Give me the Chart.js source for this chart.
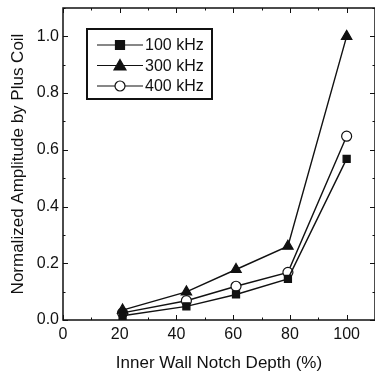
<!DOCTYPE html>
<html>
<head>
<meta charset="utf-8">
<script src="https://cdn.jsdelivr.net/npm/chart.js@4"></script>
<style>
  html, body { margin: 0; padding: 0; background: #fff; }
  #wrap { width: 375px; height: 374px; position: relative; overflow: hidden; }
</style>
</head>
<body>
<div id="wrap"><canvas id="c" width="375" height="374"></canvas></div>
<script>
// notch depth (%) and normalized amplitude per frequency
const depth = [21, 43.5, 61, 79.3, 100];
const amp100 = [0.015, 0.048, 0.090, 0.145, 0.568];
const amp300 = [0.035, 0.099, 0.178, 0.260, 1.000];
const amp400 = [0.025, 0.068, 0.119, 0.168, 0.648];
const seriesNames = ["100 kHz", "300 kHz", "400 kHz"];

const INK = "#111";
const FONT = "'Liberation Sans', Arial, sans-serif";

function pts(ys) {
    return depth.map(function (x, i) { return { x: x, y: ys[i] }; });
}

// frame, inward ticks on all four sides, and the boxed legend
const framePlugin = {
    id: "frame",
    afterDatasetsDraw: function (chart) {
        const ctx = chart.ctx;
        const a = chart.chartArea;
        const xs = chart.scales.x, ys = chart.scales.y;
        ctx.save();
        ctx.strokeStyle = INK;
        ctx.lineWidth = 1.5;
        ctx.strokeRect(a.left, a.top, a.right - a.left, a.bottom - a.top);

        ctx.lineWidth = 1;
        ctx.beginPath();
        for (let v = 0; v <= 110; v += 10) {
            const px = Math.round(xs.getPixelForValue(v)) + 0.5;
            const len = (v % 20 === 0) ? 5 : 2.5;
            ctx.moveTo(px, a.bottom); ctx.lineTo(px, a.bottom - len);
            ctx.moveTo(px, a.top); ctx.lineTo(px, a.top + len);
        }
        for (let k = 0; k <= 11; k++) {
            const py = Math.round(ys.getPixelForValue(k / 10)) + 0.5;
            const len = (k % 2 === 0) ? 5 : 2.5;
            ctx.moveTo(a.left, py); ctx.lineTo(a.left + len, py);
            ctx.moveTo(a.right, py); ctx.lineTo(a.right - len, py);
        }
        ctx.stroke();

        // legend
        const bx = 87, by = 29, bw = 125, bh = 70;
        ctx.fillStyle = "#fff";
        ctx.fillRect(bx, by, bw, bh);
        ctx.lineWidth = 2;
        ctx.strokeRect(bx, by, bw, bh);
        ctx.font = "16px " + FONT;
        ctx.textBaseline = "middle";
        chart.data.datasets.forEach(function (ds, i) {
            const yy = by + 16 + i * 20.5;
            ctx.lineWidth = 1.2;
            ctx.strokeStyle = INK;
            ctx.beginPath();
            ctx.moveTo(97, yy); ctx.lineTo(143, yy);
            ctx.stroke();
            drawMarker(ctx, ds.pointStyle, 120, yy, ds.pointBackgroundColor);
            ctx.fillStyle = INK;
            ctx.fillText(ds.label, 145, yy + 1);
        });
        ctx.restore();
    }
};

function drawMarker(ctx, style, x, y, fill) {
    ctx.beginPath();
    if (style === "rect") {
        ctx.rect(x - 4.5, y - 4.5, 9, 9);
    } else if (style === "triangle") {
        ctx.moveTo(x, y - 6); ctx.lineTo(x + 6, y + 4.5); ctx.lineTo(x - 6, y + 4.5); ctx.closePath();
    } else {
        ctx.arc(x, y, 5, 0, Math.PI * 2);
    }
    ctx.fillStyle = fill;
    ctx.fill();
    ctx.lineWidth = 1.2;
    ctx.strokeStyle = INK;
    ctx.stroke();
}

function ds(label, ys, style, fill, radius) {
    return {
        label: label,
        data: pts(ys),
        borderColor: INK,
        borderWidth: 1.4,
        pointStyle: style,
        pointRadius: radius,
        pointBackgroundColor: fill,
        pointBorderColor: INK,
        pointBorderWidth: 1.2,
        tension: 0
    };
}

new Chart(document.getElementById("c").getContext("2d"), {
    type: "line",
    data: {
        datasets: [
            ds(seriesNames[0], amp100, "rect", INK, 5),
            ds(seriesNames[1], amp300, "triangle", INK, 6),
            ds(seriesNames[2], amp400, "circle", "#fff", 5)
        ]
    },
    options: {
        responsive: false,
        animation: false,
        layout: { autoPadding: false, padding: { top: 8, right: 0, left: 0, bottom: 0 } },
        plugins: { legend: { display: false }, tooltip: { enabled: false } },
        scales: {
            x: {
                type: "linear",
                min: 0, max: 110,
                grid: { display: false, drawTicks: false },
                border: { display: false },
                ticks: {
                    stepSize: 20, includeBounds: false, padding: 5,
                    color: INK, font: { family: FONT, size: 16 }, maxRotation: 0
                },
                title: {
                    display: true, text: "Inner Wall Notch Depth (%)",
                    color: INK, font: { family: FONT, size: 17 },
                    padding: { top: 0, bottom: 0 }
                },
                afterFit: function (s) { s.height = 54; s.paddingRight = 0; s.paddingLeft = 0; }
            },
            y: {
                min: 0, max: 1.1,
                grid: { display: false, drawTicks: false },
                border: { display: false },
                ticks: {
                    stepSize: 0.2, includeBounds: false, padding: 4,
                    color: INK, font: { family: FONT, size: 16 },
                    callback: function (v) { return v.toFixed(1); }
                },
                title: {
                    display: true, text: "Normalized Amplitude by Plus Coil",
                    color: INK, font: { family: FONT, size: 17 },
                    padding: { top: 8, bottom: 0 }
                },
                afterFit: function (s) { s.width = 63; s.paddingTop = 0; s.paddingBottom = 0; }
            }
        }
    },
    plugins: [framePlugin]
});
</script>
</body>
</html>
